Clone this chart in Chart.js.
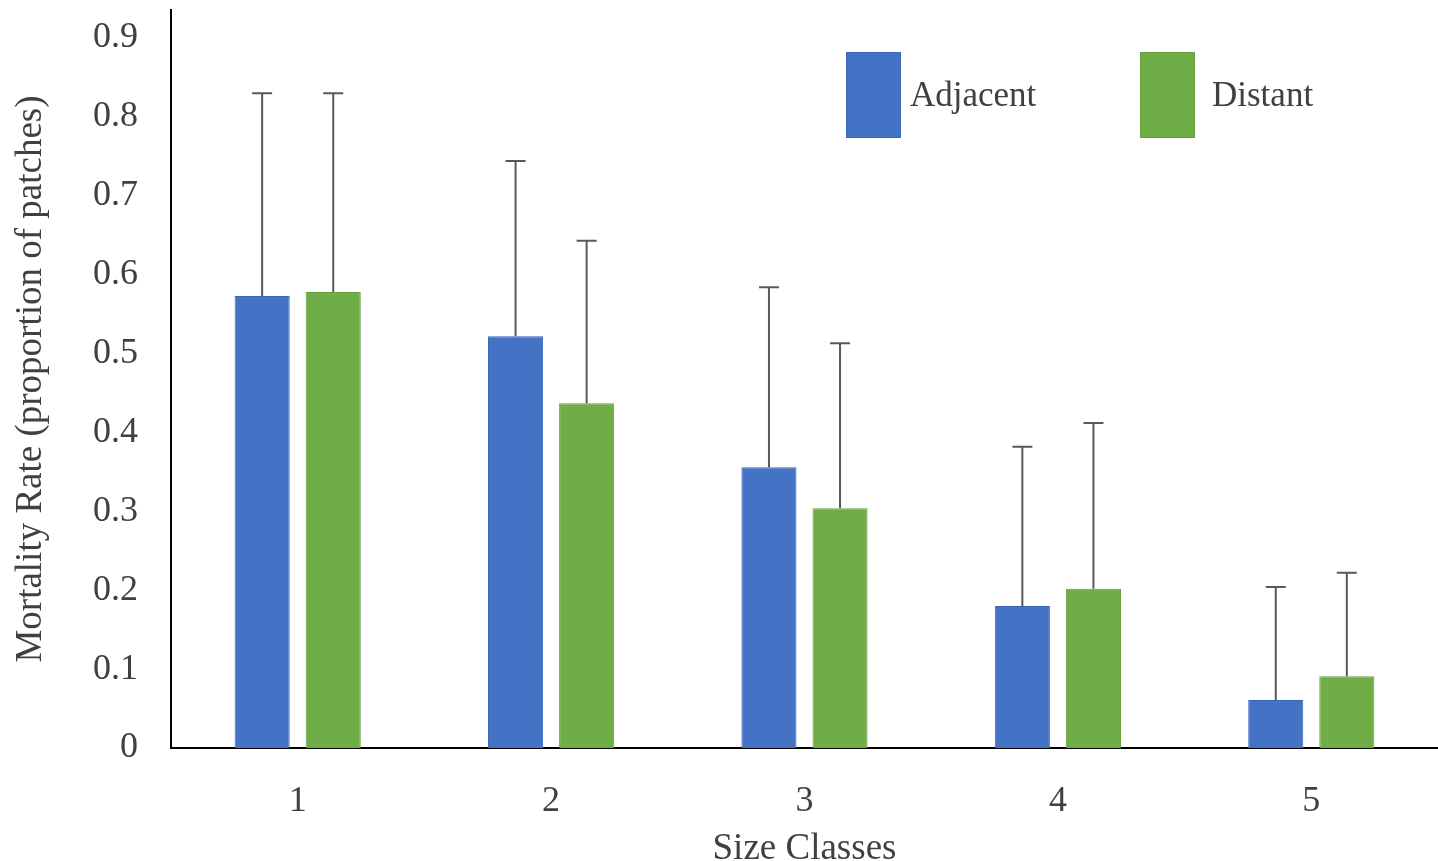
<!DOCTYPE html>
<html>
<head>
<meta charset="utf-8">
<script src="https://cdn.jsdelivr.net/npm/chart.js@4/dist/chart.umd.min.js"></script>
<style>
  html, body { margin: 0; padding: 0; background: #fff; }
  #wrap { width: 1438px; height: 861px; }
</style>
</head>
<body>
<div id="wrap"><canvas id="chart"></canvas></div>
<script>
const sizeClasses = ['1', '2', '3', '4', '5'];
const adjacentMean = [0.573, 0.522, 0.356, 0.180, 0.061];
const adjacentErr = [0.257, 0.222, 0.228, 0.202, 0.143];
const distantMean = [0.578, 0.437, 0.304, 0.202, 0.091];
const distantErr = [0.252, 0.206, 0.209, 0.210, 0.131];
const yTicks = [0, 0.1, 0.2, 0.3, 0.4, 0.5, 0.6, 0.7, 0.8, 0.9];

const FONT = '"Liberation Serif", "Times New Roman", serif';
const TEXT = '#404040';

// error bars: vertical line from the bar top up to mean + err, with a cap
const errorBars = {
    id: 'errorBars',
    afterDatasetsDraw(chart) {
        const ctx = chart.ctx;
        const y = chart.scales.y;
        ctx.save();
        ctx.strokeStyle = '#595959';
        ctx.lineWidth = 2;
        chart.data.datasets.forEach((ds, i) => {
            const meta = chart.getDatasetMeta(i);
            meta.data.forEach((bar, j) => {
                const top = y.getPixelForValue(ds.data[j] + ds.errors[j]);
                ctx.beginPath();
                ctx.moveTo(bar.x, bar.y);
                ctx.lineTo(bar.x, top);
                ctx.moveTo(bar.x - 10, top);
                ctx.lineTo(bar.x + 10, top);
                ctx.stroke();
            });
        });
        ctx.restore();
    }
};

// legend drawn inside the plot, tall swatches like the original
const boxLegend = {
    id: 'boxLegend',
    afterDraw(chart) {
        const ctx = chart.ctx;
        const spots = [{ x: 846, tx: 910 }, { x: 1140, tx: 1212 }];
        ctx.save();
        ctx.font = '35px ' + FONT;
        ctx.textBaseline = 'middle';
        chart.data.datasets.forEach((ds, i) => {
            const s = spots[i];
            ctx.fillStyle = ds.backgroundColor;
            ctx.fillRect(s.x, 52, 55, 86);
            ctx.strokeStyle = ds.borderColor;
            ctx.lineWidth = 1;
            ctx.strokeRect(s.x + 0.5, 52.5, 54, 85);
            ctx.fillStyle = TEXT;
            ctx.fillText(ds.label, s.tx, 97);
        });
        ctx.restore();
    }
};

new Chart(document.getElementById('chart'), {
    type: 'bar',
    data: {
        labels: sizeClasses,
        datasets: [
            {
                label: 'Adjacent',
                data: adjacentMean,
                errors: adjacentErr,
                backgroundColor: '#4472C4',
                borderColor: '#3a66b8',
                borderWidth: 1
            },
            {
                label: 'Distant',
                data: distantMean,
                errors: distantErr,
                backgroundColor: '#70AD47',
                borderColor: '#64a13c',
                borderWidth: 1
            }
        ]
    },
    options: {
        responsive: true,
        maintainAspectRatio: false,
        animation: false,
        categoryPercentage: 0.561,
        barPercentage: 0.775,
        layout: { padding: { top: 10, right: 0, bottom: 0, left: 0 } },
        plugins: {
            legend: { display: false },
            tooltip: { enabled: false }
        },
        scales: {
            x: {
                grid: { display: false },
                border: { display: true, color: '#000', width: 2 },
                ticks: {
                    color: TEXT,
                    padding: 24,
                    font: { family: FONT, size: 36 }
                },
                title: {
                    display: true,
                    text: 'Size Classes',
                    color: TEXT,
                    font: { family: FONT, size: 37 },
                    padding: { top: 0, bottom: -10 }
                },
                afterFit(scale) {
                    scale.height = 113;
                    scale.paddingLeft = 0;
                    scale.paddingRight = 0;
                }
            },
            y: {
                min: 0,
                max: 0.9355,
                grid: { display: false },
                border: { display: true, color: '#000', width: 2 },
                afterBuildTicks(scale) {
                    scale.ticks = yTicks.map(v => ({ value: v }));
                },
                ticks: {
                    color: TEXT,
                    padding: 25,
                    font: { family: FONT, size: 36 },
                    callback: v => String(Math.round(v * 10) / 10)
                },
                title: {
                    display: true,
                    text: 'Mortality Rate (proportion of patches)',
                    color: TEXT,
                    font: { family: FONT, size: 37 },
                    padding: { top: 9, bottom: 0 }
                },
                afterFit(scale) {
                    scale.width = 171;
                    scale.paddingTop = 0;
                    scale.paddingBottom = 0;
                }
            }
        }
    },
    plugins: [errorBars, boxLegend]
});
</script>
</body>
</html>
